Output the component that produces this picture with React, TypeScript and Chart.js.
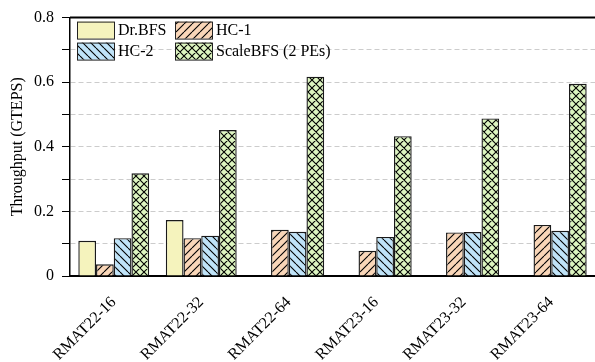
import React, { useEffect, useRef } from "react";
import { Chart, registerables } from "chart.js";

Chart.register(...registerables);

const categories = ["RMAT22-16", "RMAT22-32", "RMAT22-64", "RMAT23-16", "RMAT23-32", "RMAT23-64"];
const seriesNames = ["Dr.BFS", "HC-1", "HC-2", "ScaleBFS (2 PEs)"];
const drBfs = [0.109, 0.173, null, null, null, null];
const hc1 = [0.036, 0.117, 0.143, 0.078, 0.135, 0.158];
const hc2 = [0.117, 0.125, 0.137, 0.121, 0.136, 0.140];
const scaleBfs = [0.318, 0.452, 0.617, 0.433, 0.488, 0.595];
const yTicks = [0, 0.2, 0.4, 0.6, 0.8];

const FONT = "'Liberation Serif', 'Times New Roman', serif";

function makePattern(bg: string, kind: string): CanvasPattern | string {
  const s = 8;
  const c = document.createElement("canvas");
  c.width = s;
  c.height = s;
  const x = c.getContext("2d");
  if (!x) return bg;
  x.fillStyle = bg;
  x.fillRect(0, 0, s, s);
  if (kind === "none") return x.createPattern(c, "repeat") || bg;
  x.strokeStyle = "#000";
  x.lineWidth = 1.1;
  x.beginPath();
  for (const k of [-s, 0, s]) {
    if (kind === "/" || kind === "cross") {
      x.moveTo(k, s);
      x.lineTo(k + s, 0);
    }
    if (kind === "\\" || kind === "cross") {
      x.moveTo(k, 0);
      x.lineTo(k + s, s);
    }
  }
  x.stroke();
  return x.createPattern(c, "repeat") || bg;
}

export default function App() {
  const ref = useRef<HTMLCanvasElement | null>(null);
  useEffect(() => {
    if (!ref.current) return;
    const fills = [
      makePattern("#f5f3bd", "none"),
      makePattern("#f9d6b8", "/"),
      makePattern("#bfe3f8", "\\"),
      makePattern("#ddf5c0", "cross"),
    ];
    const values = [drBfs, hc1, hc2, scaleBfs];

    const legendPlugin = {
      id: "customLegend",
      afterDraw(chart: any) {
        const ctx = chart.ctx;
        const area = chart.chartArea;
        ctx.save();
        ctx.strokeStyle = "#000";
        ctx.lineWidth = 2;
        ctx.beginPath();
        ctx.moveTo(area.left, area.top);
        ctx.lineTo(area.right, area.top);
        ctx.stroke();
        const colX = [area.left + 7, area.left + 105];
        const rowY = [area.top + 4, area.top + 25];
        const bw = 37;
        const bh = 17;
        ctx.font = `16px ${FONT}`;
        ctx.textBaseline = "middle";
        ctx.textAlign = "left";
        seriesNames.forEach((name, i) => {
          const cx = colX[i % 2];
          const cy = rowY[Math.floor(i / 2)];
          ctx.fillStyle = fills[i];
          ctx.fillRect(cx, cy, bw, bh);
          ctx.strokeStyle = "#222";
          ctx.lineWidth = 1;
          ctx.strokeRect(cx + 0.5, cy + 0.5, bw, bh);
          ctx.fillStyle = "#000";
          ctx.fillText(name, cx + bw + 4, cy + bh / 2 + 1);
        });
        ctx.restore();
      },
    };

    const chart = new Chart(ref.current, {
      type: "bar",
      data: {
        labels: categories,
        datasets: seriesNames.map((n, i) => ({
          label: n,
          data: values[i] as any,
          backgroundColor: fills[i] as any,
          borderColor: "#1a1a1a",
          borderWidth: 1.4,
          categoryPercentage: 0.81,
          barPercentage: 1,
        })),
      },
      options: {
        responsive: false,
        animation: false,
        devicePixelRatio: 1,
        layout: { padding: { top: 14, right: 0, left: 0, bottom: 0 } },
        plugins: { legend: { display: false }, tooltip: { enabled: false } },
        scales: {
          x: {
            grid: { display: false, drawTicks: false },
            border: { display: true, color: "#000", width: 2 },
            ticks: {
              color: "#000",
              font: { family: FONT, size: 16 },
              minRotation: 45,
              maxRotation: 45,
              padding: 17,
            },
            afterFit(scale: any) {
              scale.height = 86;
            },
          },
          y: {
            min: 0,
            max: 0.8,
            border: { display: true, color: "#000", width: 1.5, dash: [5, 3] },
            grid: {
              color: (c: any) => {
                const v = c.tick ? c.tick.value : 0;
                return v <= 0.001 || v >= 0.799 ? "rgba(0,0,0,0)" : "#cccccc";
              },
              lineWidth: 1,
              tickColor: "#000",
              tickLength: 8,
              tickWidth: 1,
              tickBorderDash: [],
            },
            ticks: {
              stepSize: 0.1,
              color: "#000",
              font: { family: FONT, size: 16 },
              padding: 8,
              callback: (v: any) => {
                const r = Math.round(Number(v) * 10);
                if (r % 2 !== 0) return "";
                const t = yTicks.find((q) => Math.abs(q - r / 10) < 1e-6);
                if (t === undefined) return "";
                return t === 0 ? "0" : t.toFixed(1);
              },
            },
            title: {
              display: true,
              text: "Throughput (GTEPS)",
              color: "#000",
              font: { family: FONT, size: 16 },
              padding: { top: 8, bottom: 0 },
            },
            afterFit(scale: any) {
              scale.width = 70;
            },
          },
        },
      },
      plugins: [legendPlugin],
    });
    return () => chart.destroy();
  }, []);

  return (
    <div style={{ position: "fixed", left: 0, top: 0, width: 595, height: 362, background: "#fff" }}>
      <canvas ref={ref} width={595} height={362} style={{ display: "block" }} />
    </div>
  );
}
